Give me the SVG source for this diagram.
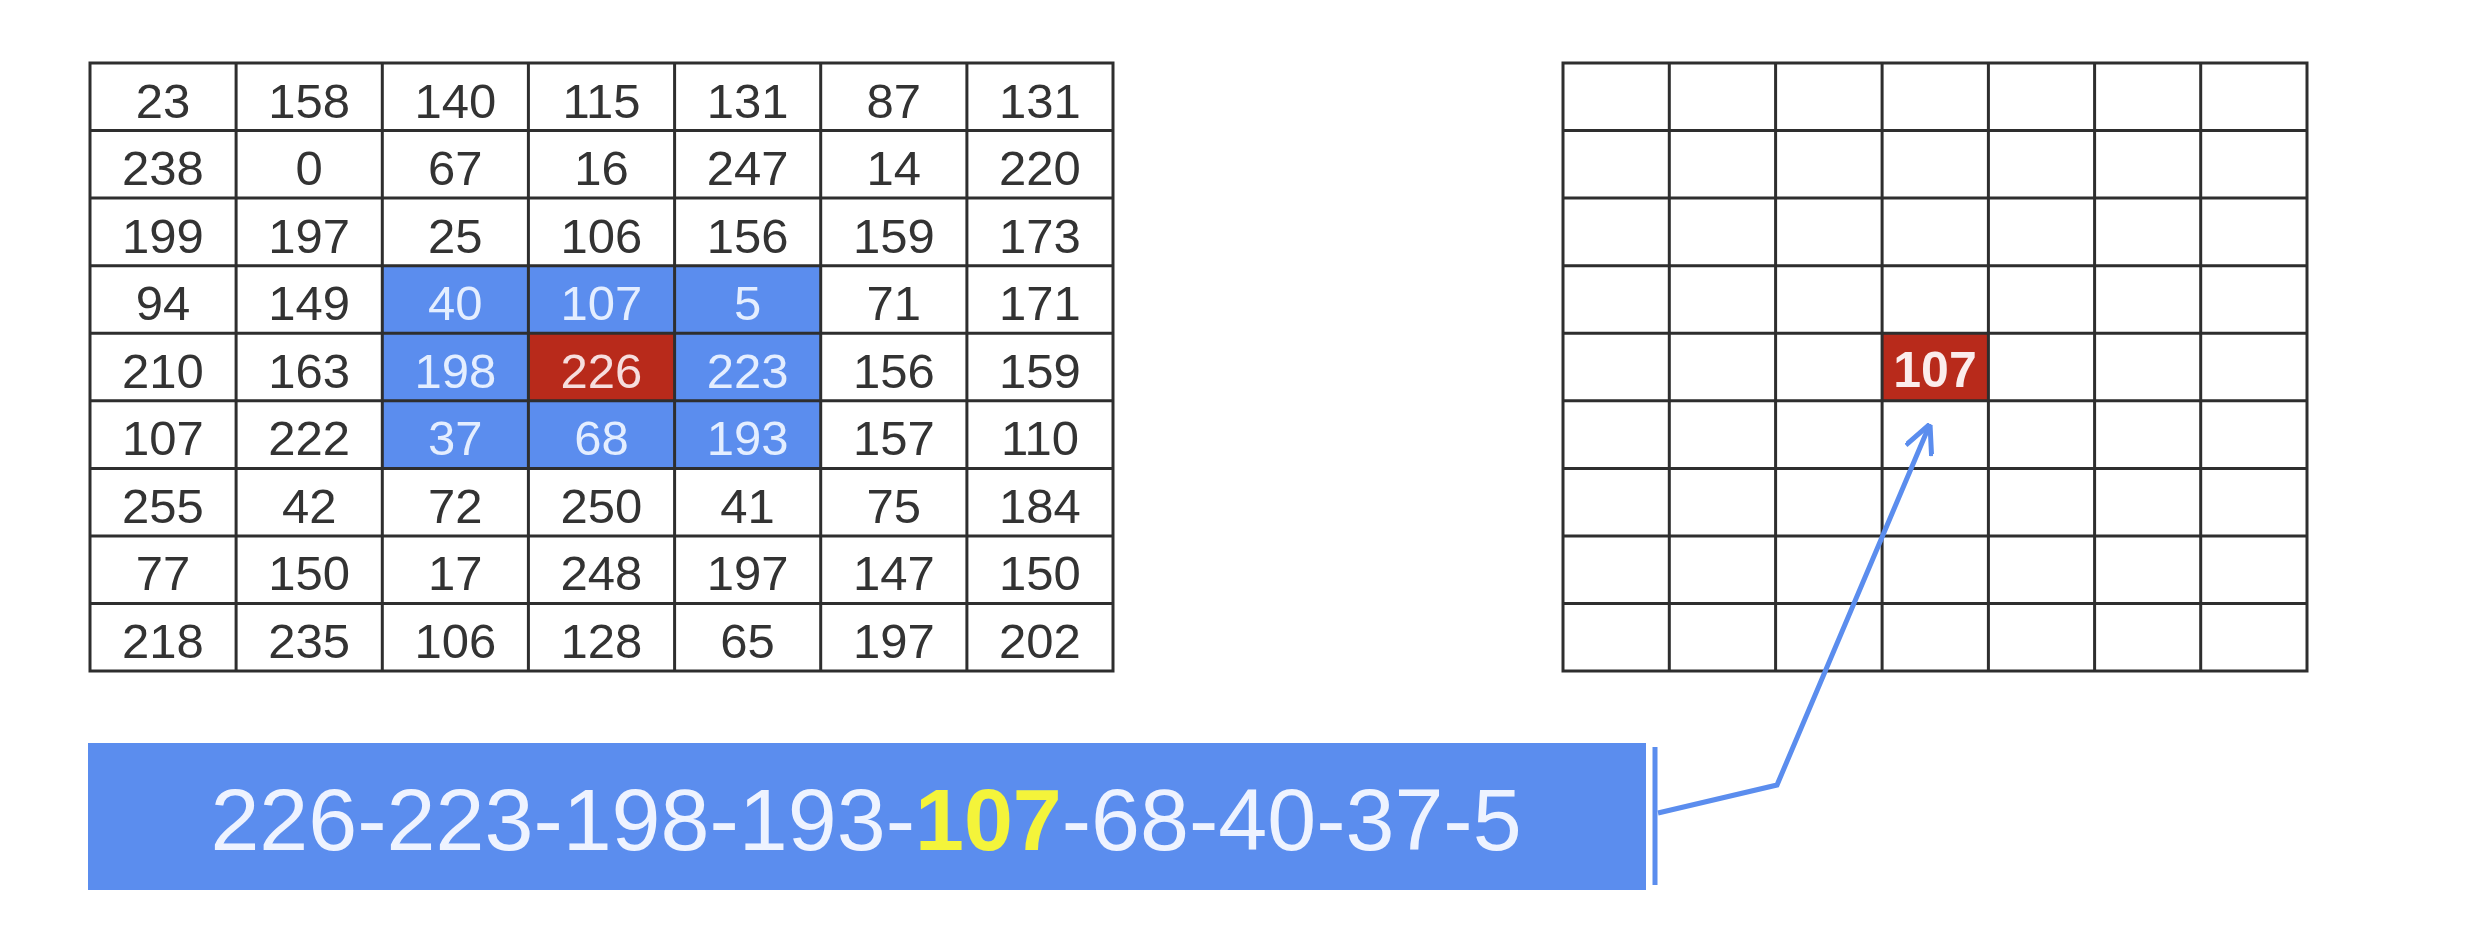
<svg xmlns="http://www.w3.org/2000/svg" width="2486" height="942" viewBox="0 0 2486 942">
<style>
.grid{stroke:#2e2e2e;stroke-width:3;fill:none}
.cell{font-family:"Liberation Sans",Arial,sans-serif;font-size:49px;fill:#333;text-anchor:middle}
.hl{fill:#e4eeff}
.hr{fill:#f6dede}
.conn{stroke:#5B8DEE;stroke-width:5;fill:none;stroke-linejoin:miter}
</style>
<defs>
<marker id="arr" viewBox="0 0 30 30" refX="30" refY="15" markerWidth="30" markerHeight="30" markerUnits="userSpaceOnUse" orient="auto">
<path d="M1,1 L30,15 L1,29" fill="none" stroke="#5B8DEE" stroke-width="5"/>
</marker>
</defs>
<rect width="2486" height="942" fill="#ffffff"/>
<g id="input-matrix">
<rect x="90" y="63" width="1023" height="608" fill="#ffffff"/>
<rect x="382.3" y="265.7" width="438.4" height="202.7" fill="#5B8DEE"/>
<rect x="528.4" y="333.2" width="146.2" height="67.6" fill="#B82A1B"/>
<g class="grid">
<rect x="90" y="63" width="1023" height="608"/>
<path d="M236.1,63V671M382.3,63V671M528.4,63V671M674.6,63V671M820.7,63V671M966.9,63V671"/>
<path d="M90,130.6H1113M90,198.1H1113M90,265.7H1113M90,333.2H1113M90,400.8H1113M90,468.4H1113M90,535.9H1113M90,603.4H1113"/>
</g>
<g class="cell">
<text x="163" y="117.5">23</text><text x="309.2" y="117.5">158</text><text x="455.3" y="117.5">140</text><text x="601.5" y="117.5">115</text><text x="747.6" y="117.5">131</text><text x="893.8" y="117.5">87</text><text x="1040" y="117.5">131</text>
<text x="163" y="185.1">238</text><text x="309.2" y="185.1">0</text><text x="455.3" y="185.1">67</text><text x="601.5" y="185.1">16</text><text x="747.6" y="185.1">247</text><text x="893.8" y="185.1">14</text><text x="1040" y="185.1">220</text>
<text x="163" y="252.6">199</text><text x="309.2" y="252.6">197</text><text x="455.3" y="252.6">25</text><text x="601.5" y="252.6">106</text><text x="747.6" y="252.6">156</text><text x="893.8" y="252.6">159</text><text x="1040" y="252.6">173</text>
<text x="163" y="320.2">94</text><text x="309.2" y="320.2">149</text><text class="hl" x="455.3" y="320.2">40</text><text class="hl" x="601.5" y="320.2">107</text><text class="hl" x="747.6" y="320.2">5</text><text x="893.8" y="320.2">71</text><text x="1040" y="320.2">171</text>
<text x="163" y="387.7">210</text><text x="309.2" y="387.7">163</text><text class="hl" x="455.3" y="387.7">198</text><text class="hr" x="601.5" y="387.7">226</text><text class="hl" x="747.6" y="387.7">223</text><text x="893.8" y="387.7">156</text><text x="1040" y="387.7">159</text>
<text x="163" y="455.3">107</text><text x="309.2" y="455.3">222</text><text class="hl" x="455.3" y="455.3">37</text><text class="hl" x="601.5" y="455.3">68</text><text class="hl" x="747.6" y="455.3">193</text><text x="893.8" y="455.3">157</text><text x="1040" y="455.3">110</text>
<text x="163" y="522.9">255</text><text x="309.2" y="522.9">42</text><text x="455.3" y="522.9">72</text><text x="601.5" y="522.9">250</text><text x="747.6" y="522.9">41</text><text x="893.8" y="522.9">75</text><text x="1040" y="522.9">184</text>
<text x="163" y="590.4">77</text><text x="309.2" y="590.4">150</text><text x="455.3" y="590.4">17</text><text x="601.5" y="590.4">248</text><text x="747.6" y="590.4">197</text><text x="893.8" y="590.4">147</text><text x="1040" y="590.4">150</text>
<text x="163" y="657.9">218</text><text x="309.2" y="657.9">235</text><text x="455.3" y="657.9">106</text><text x="601.5" y="657.9">128</text><text x="747.6" y="657.9">65</text><text x="893.8" y="657.9">197</text><text x="1040" y="657.9">202</text>
</g>
</g>
<g id="output-matrix">
<rect x="1563" y="63" width="744" height="608" fill="#ffffff"/>
<rect x="1882.1" y="333.2" width="106.3" height="67.6" fill="#B82A1B"/>
<g class="grid">
<rect x="1563" y="63" width="744" height="608"/>
<path d="M1669.3,63V671M1775.6,63V671M1882.1,63V671M1988.4,63V671M2094.6,63V671M2200.7,63V671"/>
<path d="M1563,130.6H2307M1563,198.1H2307M1563,265.7H2307M1563,333.2H2307M1563,400.8H2307M1563,468.4H2307M1563,535.9H2307M1563,603.4H2307"/>
</g>
<text x="1935" y="387" font-family="'Liberation Sans',Arial,sans-serif" font-size="50" font-weight="bold" fill="#fbecec" text-anchor="middle">107</text>
</g>
<g id="sorted-box">
<rect x="88" y="743" width="1558" height="147" fill="#5B8DEE"/>
<text x="866" y="850" font-family="'Liberation Sans',Arial,sans-serif" font-size="88" fill="#eef3ff" text-anchor="middle">226-223-198-193-<tspan fill="#F4F43A" font-weight="bold">107</tspan>-68-40-37-5</text>
</g>
<g id="connectors">
<line x1="1655" y1="747" x2="1655" y2="885" class="conn" stroke-width="6"/>
<polyline class="conn" points="1658,813 1777,785 1930,424" marker-end="url(#arr)"/>
</g>
</svg>
